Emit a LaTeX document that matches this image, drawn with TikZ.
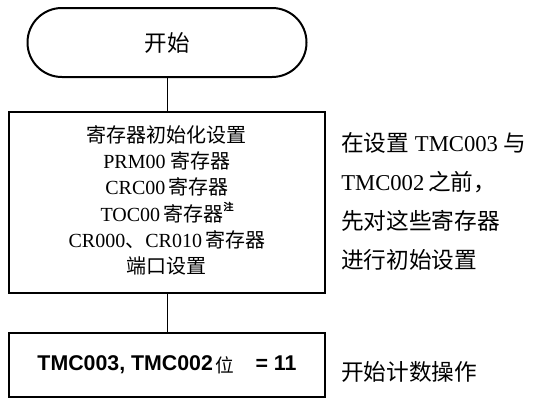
\documentclass[tikz,border=0pt]{standalone}
\usepackage{fontspec}
\setmainfont{Liberation Serif}
\newfontfamily\cjk{Noto Sans CJK SC}
\newfontfamily\cjkbold{Noto Sans CJK SC}[FakeBold=3]
\newfontfamily\arialf{Liberation Sans}
\newcommand\zh[1]{{\cjk #1}}
\begin{document}
\begin{tikzpicture}[x=0.75pt,y=-0.75pt,
  term/.style={draw, line width=1.5pt, rounded corners=25.8pt, minimum width=209.25pt, minimum height=51.75pt, inner sep=0pt, font=\fontsize{16.9}{20}\selectfont\cjk},
  proc/.style={draw, line width=1.5pt, minimum width=237pt, inner sep=0pt, align=center},
  link/.style={line width=0.75pt},
  note/.style={anchor=west, inner sep=0pt, align=left, font=\fontsize{17}{29.25}\selectfont}]
\useasboundingbox (0,0) rectangle (540,400);

\node[term] (start) at (167,42.5) {开始};

\node[proc, minimum height=135.75pt, font=\fontsize{15}{19.5}\selectfont] (init) at (167,202.5)
  {\raisebox{3.5pt}{\begin{tabular}{@{}c@{}}
   \zh{寄存器初始化设置}\\
   PRM00 \zh{寄存器}\\
   CRC00\,\zh{寄存器}\\
   TOC00\,\zh{寄存器}\raisebox{0.55em}{\fontsize{7.5}{7.5}\selectfont\cjkbold 注}\\
   CR000\zh{、}CR010\,\zh{寄存器}\\
   \zh{端口设置}
   \end{tabular}}};

\node[proc, minimum height=48pt] (run) at (167,365)
  {\raisebox{-2.5pt}{\fontsize{16}{18}\selectfont\arialf\bfseries TMC003, TMC002\hspace{2pt}\raisebox{-1.5pt}{\fontsize{14}{14}\selectfont\cjk\mdseries 位}\hspace{16pt}= 11}};

\node[note] (n1) at (341,201.5)
  {\zh{在设置} TMC003 \zh{与}\\
   TMC002\,\zh{之前，}\\
   \zh{先对这些寄存器}\\
   \zh{进行初始设置}};

\node[note, font=\fontsize{17}{20}\selectfont\cjk] (n2) at (341,372) {开始计数操作};

\draw[link] (start.south) -- (init.north);
\draw[link] (init.south) -- (run.north);
\end{tikzpicture}
\end{document}
